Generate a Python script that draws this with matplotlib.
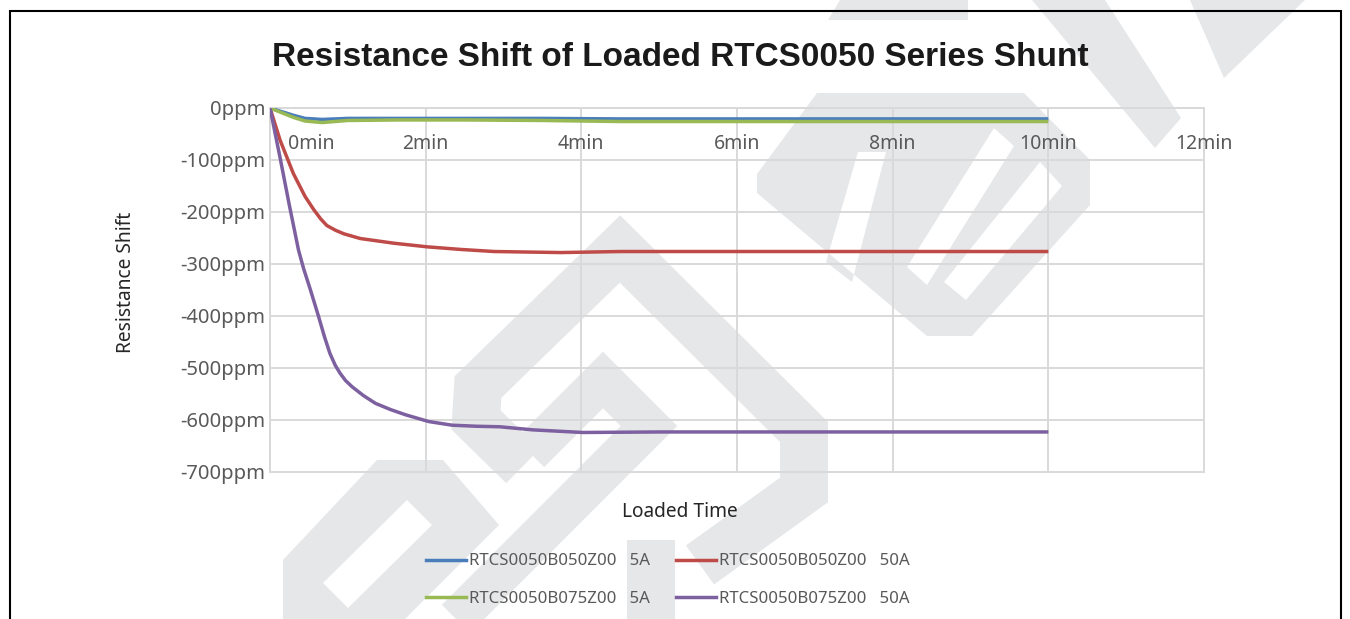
import matplotlib
matplotlib.use("Agg")
import numpy as np
import matplotlib.pyplot as plt
import matplotlib.transforms as mtransforms
from matplotlib.lines import Line2D
from matplotlib.path import Path
from matplotlib.patches import PathPatch

# values (minutes, ppm)
t_5a = [0, 0.15, 0.3, 0.45, 0.67, 1.0, 1.65, 2.5, 3.5, 4.5, 6, 8, 10]
b050_5a = [0, -7, -14, -20, -22, -20, -20, -20, -20, -21, -21, -21, -21]
b075_5a = [0, -9, -18, -25, -28, -24, -23, -23, -24, -26, -26, -26, -26]

t_b050_50a = [0, 0.13, 0.3, 0.45, 0.56, 0.65, 0.73, 0.84, 0.95, 1.16, 1.59, 2.02,
              2.45, 2.88, 3.74, 4.5, 6, 8, 10]
b050_50a = [0, -62, -126, -170, -195, -213, -226, -235, -242, -251, -260, -267,
            -272, -276, -278, -276, -276, -276, -276]

t_b075_50a = [0, 0.13, 0.25, 0.366, 0.43, 0.52, 0.624, 0.70, 0.77, 0.839, 0.90,
              0.97, 1.054, 1.2, 1.355, 1.55, 1.742, 2.04, 2.34, 2.65, 2.95, 3.38,
              4.02, 5, 6, 8, 10]
b075_50a = [0, -96, -188, -273, -308, -350, -401, -440, -472, -495, -510,
            -524, -536, -553, -568, -580, -590, -603, -610, -612, -613, -619,
            -624, -623, -623, -623, -623]

series_labels = ["RTCS0050B050Z00   5A", "RTCS0050B050Z00   50A",
                 "RTCS0050B075Z00   5A", "RTCS0050B075Z00   50A"]
x_ticks = [0, 2, 4, 6, 8, 10, 12]
x_tick_labels = ["0min", "2min", "4min", "6min", "8min", "10min", "12min"]
y_ticks = [0, -100, -200, -300, -400, -500, -600, -700]
y_tick_labels = ["0ppm", "-100ppm", "-200ppm", "-300ppm", "-400ppm",
                 "-500ppm", "-600ppm", "-700ppm"]

# excel 2010 line colours
colors = ["#4A7EBB", "#BE4B48", "#98B954", "#7D60A0"]
grid_col = "#D9D9D9"
text_col = "#595959"
wm_col = "#E6E7E9"

plt.rcParams["font.family"] = ["Noto Sans", "DejaVu Sans"]

W, H = 1350, 619
fig = plt.figure(figsize=(W / 100, H / 100), dpi=100)


# --- rough copy of the grey logo watermark behind the chart (pixel coords, y down)
def to_fig(pts):
    return [(x / W, 1 - y / H) for x, y in pts]


def signed_area(pts):
    a = np.array(pts, float)
    return 0.5 * np.sum(a[:, 0] * np.roll(a[:, 1], -1) - np.roll(a[:, 0], -1) * a[:, 1])


def wm_shape(outer, holes=()):
    verts, codes = [], []
    rings = [outer] + list(holes)
    for k, ring in enumerate(rings):
        ring = list(ring)
        if (signed_area(ring) > 0) != (k == 0):
            ring = ring[::-1]
        pts = to_fig(ring)
        verts += pts + [pts[0]]
        codes += [Path.MOVETO] + [Path.LINETO] * (len(pts) - 1) + [Path.CLOSEPOLY]
    fig.add_artist(PathPatch(Path(verts, codes), facecolor=wm_col, edgecolor="none",
                             transform=fig.transFigure, zorder=0))


def wm_stroke(pts, width_px):
    xs, ys = zip(*to_fig(pts))
    fig.add_artist(Line2D(xs, ys, color=wm_col, lw=width_px * 0.72,
                          solid_joinstyle="miter", solid_capstyle="butt",
                          transform=fig.transFigure, zorder=0))


wm_shape([(1032, 0), (1105, 0), (1181, 118), (1155, 148)])
wm_shape([(1190, 0), (1305, 0), (1224, 78)])
wm_shape([(840, 0), (968, 0), (968, 20), (828, 20)])
wm_shape([(757, 174), (817, 93), (1024, 93), (1090, 160), (1090, 205),
          (972, 336), (927, 336), (757, 193)],
         [[(994, 128), (1014, 146), (927, 285), (907, 267)],
          [(1040, 162), (1062, 186), (966, 300), (944, 282)],
          [(858, 152), (886, 152), (852, 282), (826, 262)]])
wm_stroke([(523, 466), (476, 420), (478, 387), (620, 249), (804, 432),
           (804, 490), (700, 565)], 48)
wm_shape([(627, 540), (675, 540), (675, 619), (627, 619)])
wm_stroke([(530, 453), (603, 380), (649, 426), (456, 619)], 40)
wm_shape([(283, 619), (283, 560), (377, 460), (443, 460), (499, 525), (405, 619)],
         [[(407, 500), (432, 525), (348, 608), (323, 583)]])

ax = fig.add_axes([270 / W, 1 - 472 / H, (1204 - 270) / W, (472 - 108) / H])
ax.set_facecolor("none")

lw = 2.5
ax.plot(t_5a, b050_5a, color=colors[0], lw=lw, solid_capstyle="butt", zorder=3)
ax.plot(t_b050_50a, b050_50a, color=colors[1], lw=lw, solid_capstyle="butt", zorder=3)
ax.plot(t_5a, b075_5a, color=colors[2], lw=lw, solid_capstyle="butt", zorder=3)
ax.plot(t_b075_50a, b075_50a, color=colors[3], lw=lw, solid_capstyle="butt", zorder=3)

ax.set_xlim(0, 12)
ax.set_ylim(-700, 0)
ax.set_xticks(x_ticks)
ax.set_xticklabels(x_tick_labels)
ax.set_yticks(y_ticks)
ax.set_yticklabels(y_tick_labels)

# category axis crosses at 0 (the top of the plot)
ax.spines["bottom"].set_position(("data", 0))
ax.spines["top"].set_visible(False)
ax.spines["right"].set_visible(False)
for s in ("bottom", "left"):
    ax.spines[s].set_color(grid_col)
    ax.spines[s].set_linewidth(1.4)

ax.grid(True, color=grid_col, lw=1.4)
ax.set_axisbelow(True)
for gl in ax.get_xgridlines() + ax.get_ygridlines():
    gl.set_clip_on(False)

ax.tick_params(axis="x", length=0, pad=18.5, labelsize=14, labelcolor=text_col)
ax.tick_params(axis="y", length=0, pad=3.5, labelsize=14.5, labelcolor=text_col)

# excel nudges the first category label off the value axis
first = ax.get_xticklabels()[0]
first.set_transform(first.get_transform() +
                    mtransforms.ScaledTranslation(41 / 100, 0, fig.dpi_scale_trans))

fig.text(680 / W, 1 - 57 / H, "Resistance Shift of Loaded RTCS0050 Series Shunt",
         ha="center", va="center", fontsize=24, fontweight="bold",
         family=["Liberation Sans", "DejaVu Sans"], color="#1A1A1A")
fig.text(126 / W, 1 - 282 / H, "Resistance Shift", rotation=90, ha="center",
         va="center", fontsize=13.8, color="#262626")
fig.text(680 / W, 1 - 512 / H, "Loaded Time", ha="center", va="center",
         fontsize=13.8, color="#262626")

order = [0, 2, 1, 3]
handles = [Line2D([0], [0], color=colors[i], lw=lw) for i in order]
fig.legend(handles, [series_labels[i] for i in order], ncol=2,
           loc="center", bbox_to_anchor=(668 / W, 1 - 580 / H), frameon=False,
           fontsize=12.1, handlelength=2.38, handletextpad=0.18, columnspacing=1.55,
           labelspacing=1.25, labelcolor=text_col)

# outer chart border (bottom edge lies outside the picture)
fig.add_artist(plt.Rectangle((9.5 / W, -0.05), (1341 - 9.5) / W, 1.05 - 11 / H,
                             transform=fig.transFigure, fill=False,
                             edgecolor="black", lw=1.5))

fig.savefig("out.png", dpi=100)
